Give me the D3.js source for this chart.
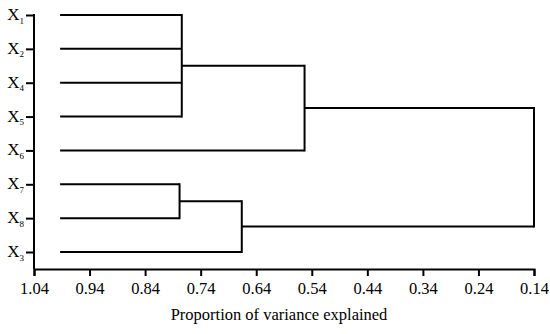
<!DOCTYPE html>
<html>
<head>
<meta charset="utf-8">
<script src="https://cdn.jsdelivr.net/npm/d3@7"></script>
<style>
    body { margin: 0; background: #fff; }
    svg, svg text, svg tspan { font-family: "Liberation Serif", "Times New Roman", "DejaVu Serif", serif !important; }
    svg text { fill: #000; }
    .axis path, .axis line { stroke: #000; stroke-width: 2; }
    .link { stroke: #000; stroke-width: 2; fill: none; }
</style>
</head>
<body>
<div id="chart"></div>
<script>

// leaves, top to bottom (subscript of X)
let leaves = ["1", "2", "4", "5", "6", "7", "8", "3"];
let leafStart = 0.993;

// merges of the dendrogram
let mergeNames = ["A", "B", "C", "D", "root"];
let mergeChildren = [["1", "2", "4", "5"], ["7", "8"], ["A", "6"], ["B", "3"], ["C", "D"]];
let mergeHeights = [0.774, 0.778, 0.553, 0.666, 0.14];

// x axis ticks
let xTicks = [1.04, 0.94, 0.84, 0.74, 0.64, 0.54, 0.44, 0.34, 0.24, 0.14];
let xTitle = "Proportion of variance explained";

let serif = "'Liberation Serif', 'Times New Roman', serif";

let width = 550, height = 334;
let margin = {left: 34, right: 16, top: 15, bottom: 66};

let svg = d3.select("#chart").append("svg")
    .attr("width", width)
    .attr("height", height)
    .attr("font-family", serif);

let x = d3.scaleLinear()
    .domain([1.04, 0.14])
    .range([margin.left, width - margin.right]);

let y = d3.scalePoint()
    .domain(leaves)
    .range([15, 252]);

let axisY = height - margin.bottom + 1;

// x axis
let xAxis = d3.axisBottom(x)
    .tickValues(xTicks)
    .tickSizeOuter(0)
    .tickSize(7)
    .tickPadding(6)
    .tickFormat(d3.format(".2f"));

svg.append("g")
    .attr("class", "axis x-axis")
    .attr("transform", `translate(0, ${axisY})`)
    .call(xAxis)
    .attr("font-family", serif)
    .call(g => g.selectAll(".tick text").attr("font-size", 16.5));

// y axis
let yAxis = d3.axisLeft(y)
    .tickSizeOuter(0)
    .tickSize(8)
    .tickPadding(2);

let yG = svg.append("g")
    .attr("class", "axis y-axis")
    .attr("transform", `translate(${margin.left}, 0)`)
    .call(yAxis)
    .attr("font-family", serif);

yG.select(".domain").remove();
yG.append("line")
    .attr("x1", 0).attr("x2", 0)
    .attr("y1", y(leaves[0]) - 1)
    .attr("y2", axisY);

yG.selectAll(".tick text")
    .text(null)
    .attr("dy", "0.45em")
    .each(function (d) {
        let t = d3.select(this);
        t.append("tspan").attr("font-size", 17).text("X");
        t.append("tspan").attr("font-size", 9).attr("dy", "0.4em").text(d);
    });

// dendrogram
let pos = {};
leaves.forEach(l => pos[l] = {y: y(l), h: leafStart});

let links = svg.append("g");

mergeNames.forEach((name, i) => {
    let kids = mergeChildren[i].map(c => pos[c]);
    let hx = x(mergeHeights[i]);
    let ys = kids.map(k => k.y);

    kids.forEach(k => {
        links.append("line")
            .attr("class", "link")
            .attr("x1", x(k.h)).attr("x2", hx)
            .attr("y1", k.y).attr("y2", k.y);
    });

    links.append("line")
        .attr("class", "link")
        .attr("x1", hx).attr("x2", hx)
        .attr("y1", d3.min(ys) - 1).attr("y2", d3.max(ys) + 1);

    pos[name] = {y: (d3.min(ys) + d3.max(ys)) / 2, h: mergeHeights[i]};
});

// x title
svg.append("text")
    .attr("x", 279)
    .attr("y", 320)
    .attr("text-anchor", "middle")
    .attr("font-size", 16.5)
    .text(xTitle);

</script>
</body>
</html>
